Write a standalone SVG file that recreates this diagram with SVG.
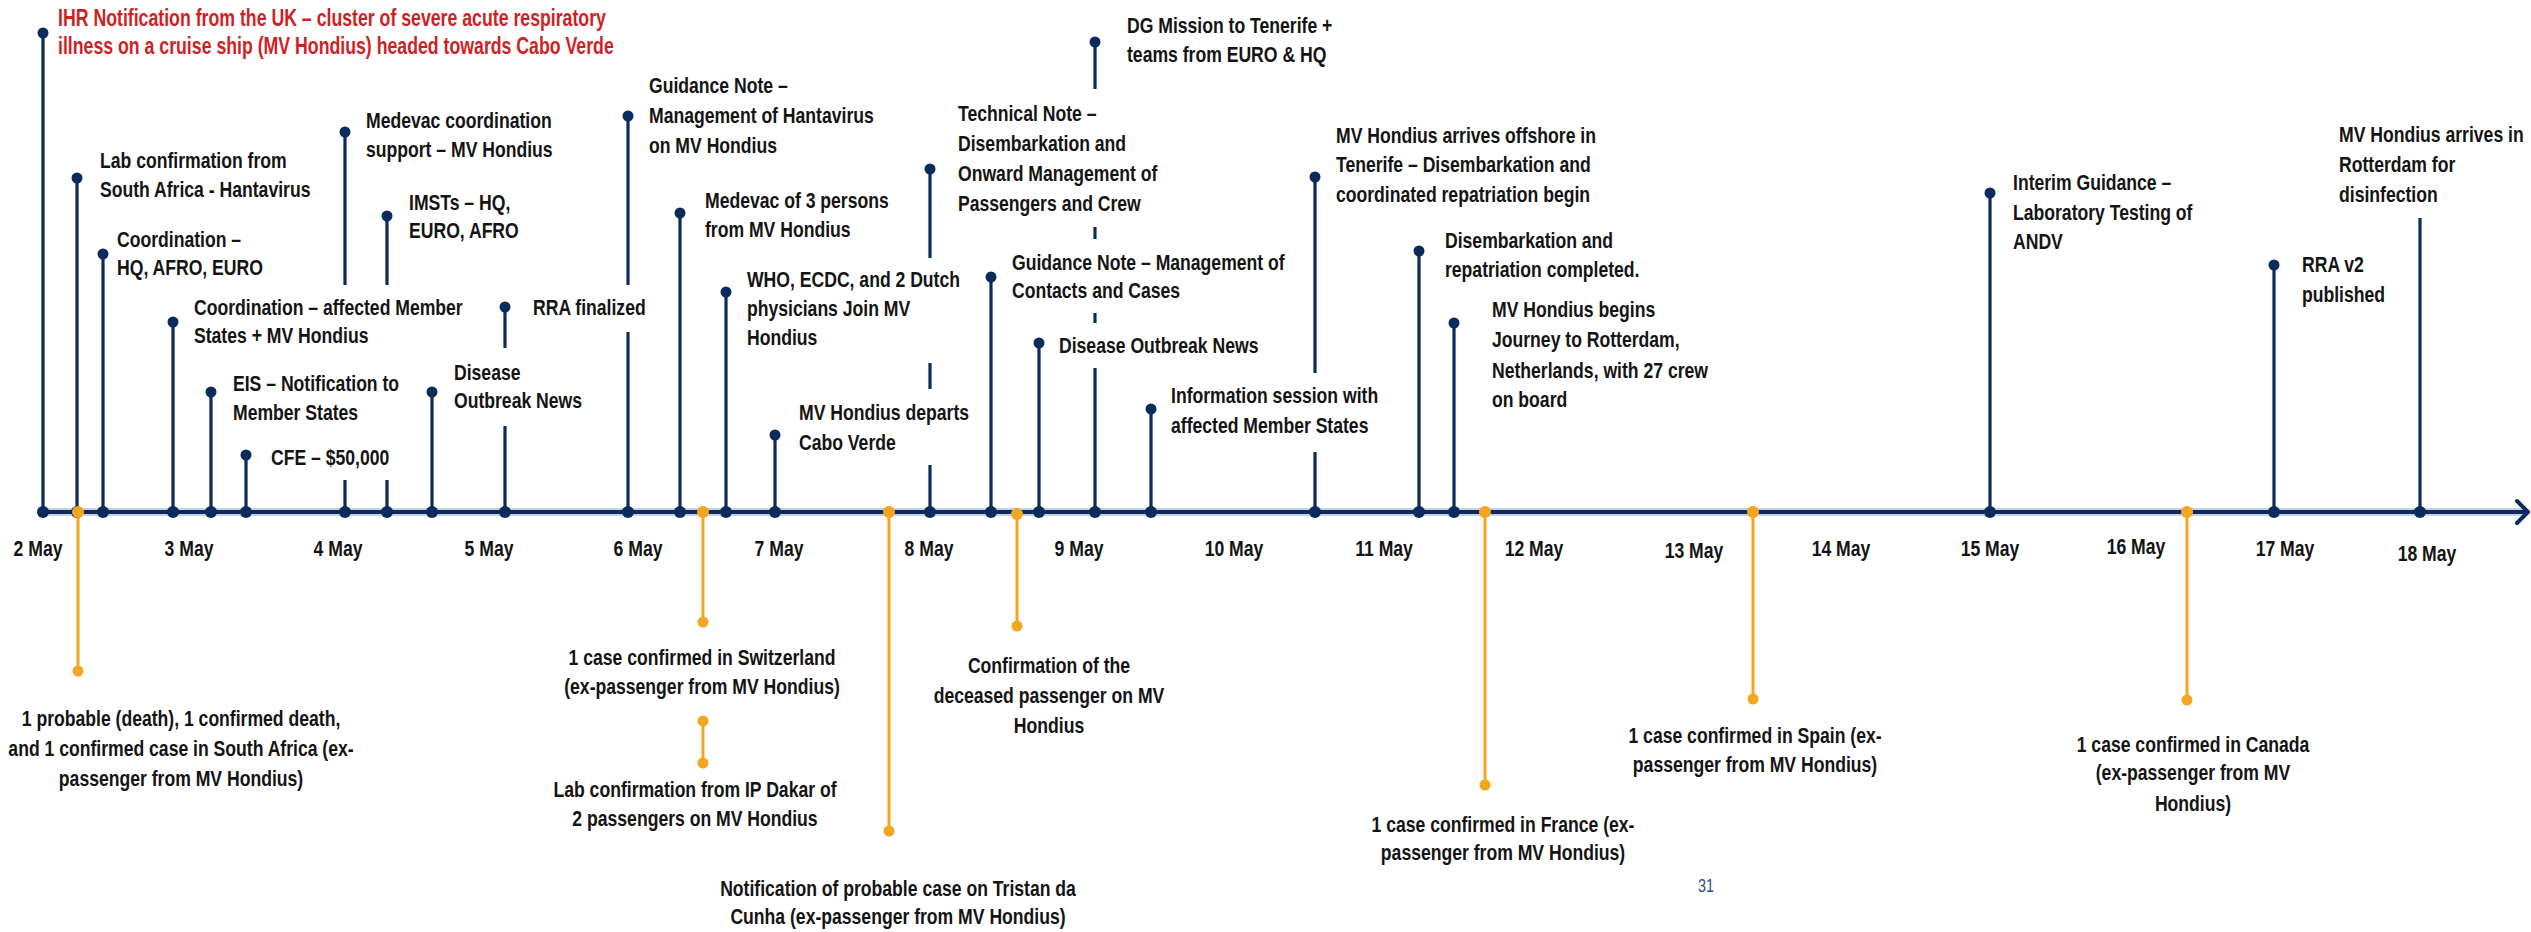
<svg xmlns="http://www.w3.org/2000/svg" width="2531" height="932" viewBox="0 0 2531 932">
<style>
.t{font-family:"Liberation Sans",Arial,sans-serif;font-size:22px;font-weight:bold;fill:#141414}
.red{fill:#d01f25;font-size:23px}
.c{text-anchor:middle}
.pg{font-family:"Liberation Sans",Arial,sans-serif;font-size:18px;fill:#2f4a8a;text-anchor:middle}
.stem{stroke:#0b2b5c;stroke-width:3.2;fill:none}
.ostem{stroke:#f4a620;stroke-width:3;fill:none}
.dot{fill:#0b2b5c}
.odot{fill:#f4a620}
</style>
<rect width="2531" height="932" fill="#ffffff"/>
<g id="axis">
<line x1="42" y1="512" x2="2527" y2="512" stroke="#c7d1de" stroke-width="8"/>
<line x1="42" y1="512" x2="2527" y2="512" stroke="#0b2b5c" stroke-width="4"/>
<polyline points="2517,501 2528,512 2517,523" fill="none" stroke="#0b2b5c" stroke-width="4" stroke-linecap="round" stroke-linejoin="round"/>
</g>
<g id="connectors">
<line class="stem" x1="43" y1="33" x2="43" y2="512"/>
<line class="stem" x1="77" y1="178" x2="77" y2="512"/>
<line class="stem" x1="103" y1="254" x2="103" y2="512"/>
<line class="stem" x1="173" y1="322" x2="173" y2="512"/>
<line class="stem" x1="211" y1="392" x2="211" y2="512"/>
<line class="stem" x1="246" y1="455" x2="246" y2="512"/>
<line class="stem" x1="345" y1="132" x2="345" y2="285"/>
<line class="stem" x1="345" y1="480" x2="345" y2="512"/>
<line class="stem" x1="387" y1="216" x2="387" y2="285"/>
<line class="stem" x1="387" y1="480" x2="387" y2="512"/>
<line class="stem" x1="432" y1="392" x2="432" y2="512"/>
<line class="stem" x1="505" y1="307" x2="505" y2="348"/>
<line class="stem" x1="505" y1="426" x2="505" y2="512"/>
<line class="stem" x1="628" y1="116" x2="628" y2="285"/>
<line class="stem" x1="628" y1="332" x2="628" y2="512"/>
<line class="stem" x1="680" y1="213" x2="680" y2="512"/>
<line class="stem" x1="726" y1="292" x2="726" y2="512"/>
<line class="stem" x1="775" y1="435" x2="775" y2="512"/>
<line class="stem" x1="930" y1="169" x2="930" y2="258"/>
<line class="stem" x1="930" y1="363" x2="930" y2="389"/>
<line class="stem" x1="930" y1="465" x2="930" y2="512"/>
<line class="stem" x1="991" y1="277" x2="991" y2="512"/>
<line class="stem" x1="1039" y1="343" x2="1039" y2="512"/>
<line class="stem" x1="1095" y1="42" x2="1095" y2="89"/>
<line class="stem" x1="1095" y1="227" x2="1095" y2="239"/>
<line class="stem" x1="1095" y1="313" x2="1095" y2="323"/>
<line class="stem" x1="1095" y1="368" x2="1095" y2="512"/>
<line class="stem" x1="1151" y1="409" x2="1151" y2="512"/>
<line class="stem" x1="1315" y1="177" x2="1315" y2="373"/>
<line class="stem" x1="1315" y1="452" x2="1315" y2="512"/>
<line class="stem" x1="1419" y1="251" x2="1419" y2="512"/>
<line class="stem" x1="1454" y1="323" x2="1454" y2="512"/>
<line class="stem" x1="1990" y1="193" x2="1990" y2="512"/>
<line class="stem" x1="2274" y1="265" x2="2274" y2="512"/>
<line class="stem" x1="2420" y1="218" x2="2420" y2="512"/>
<line class="ostem" x1="78" y1="512" x2="78" y2="671"/>
<line class="ostem" x1="703" y1="512" x2="703" y2="622"/>
<line class="ostem" x1="703" y1="721" x2="703" y2="763"/>
<line class="ostem" x1="889" y1="512" x2="889" y2="831"/>
<line class="ostem" x1="1017" y1="514" x2="1017" y2="626"/>
<line class="ostem" x1="1485" y1="512" x2="1485" y2="785"/>
<line class="ostem" x1="1753" y1="512" x2="1753" y2="699"/>
<line class="ostem" x1="2187" y1="512" x2="2187" y2="700"/>
</g>
<g id="dates" class="t c">
<text transform="matrix(0.8 0 0 1 38 556)">2 May</text>
<text transform="matrix(0.8 0 0 1 189 556)">3 May</text>
<text transform="matrix(0.8 0 0 1 338 556)">4 May</text>
<text transform="matrix(0.8 0 0 1 489 556)">5 May</text>
<text transform="matrix(0.8 0 0 1 638 556)">6 May</text>
<text transform="matrix(0.8 0 0 1 779 556)">7 May</text>
<text transform="matrix(0.8 0 0 1 929 556)">8 May</text>
<text transform="matrix(0.8 0 0 1 1079 556)">9 May</text>
<text transform="matrix(0.8 0 0 1 1234 556)">10 May</text>
<text transform="matrix(0.8 0 0 1 1384 556)">11 May</text>
<text transform="matrix(0.8 0 0 1 1534 556)">12 May</text>
<text transform="matrix(0.8 0 0 1 1694 558)">13 May</text>
<text transform="matrix(0.8 0 0 1 1841 556)">14 May</text>
<text transform="matrix(0.8 0 0 1 1990 556)">15 May</text>
<text transform="matrix(0.8 0 0 1 2136 554)">16 May</text>
<text transform="matrix(0.8 0 0 1 2285 556)">17 May</text>
<text transform="matrix(0.8 0 0 1 2427 561)">18 May</text>
</g>
<g id="e01"><circle class="dot" cx="43" cy="33" r="5.5"/><circle class="dot" cx="43" cy="512" r="6"/>
<text class="t red" transform="matrix(0.77 0 0 1 58 26)">IHR Notification from the UK – cluster of severe acute respiratory</text>
<text class="t red" transform="matrix(0.77 0 0 1 58 54)">illness on a cruise ship (MV Hondius) headed towards Cabo Verde</text></g>
<g id="e02"><circle class="dot" cx="77" cy="178" r="5.5"/><circle class="dot" cx="77" cy="512" r="6"/>
<text class="t" transform="matrix(0.8 0 0 1 100 168)">Lab confirmation from</text><text class="t" transform="matrix(0.8 0 0 1 100 197)">South Africa - Hantavirus</text></g>
<g id="e03"><circle class="dot" cx="103" cy="254" r="5.5"/><circle class="dot" cx="103" cy="512" r="6"/>
<text class="t" transform="matrix(0.8 0 0 1 117 247)">Coordination –</text><text class="t" transform="matrix(0.8 0 0 1 117 275)">HQ, AFRO, EURO</text></g>
<g id="e04"><circle class="dot" cx="173" cy="322" r="5.5"/><circle class="dot" cx="173" cy="512" r="6"/>
<text class="t" transform="matrix(0.8 0 0 1 194 315)">Coordination – affected Member</text><text class="t" transform="matrix(0.8 0 0 1 194 343)">States + MV Hondius</text></g>
<g id="e05"><circle class="dot" cx="211" cy="392" r="5.5"/><circle class="dot" cx="211" cy="512" r="6"/>
<text class="t" transform="matrix(0.8 0 0 1 233 391)">EIS – Notification to</text><text class="t" transform="matrix(0.8 0 0 1 233 420)">Member States</text></g>
<g id="e06"><circle class="dot" cx="246" cy="455" r="5.5"/><circle class="dot" cx="246" cy="512" r="6"/>
<text class="t" transform="matrix(0.8 0 0 1 271 465)">CFE – $50,000</text></g>
<g id="e07"><circle class="dot" cx="345" cy="132" r="5.5"/><circle class="dot" cx="345" cy="512" r="6"/>
<text class="t" transform="matrix(0.8 0 0 1 366 128)">Medevac coordination</text><text class="t" transform="matrix(0.8 0 0 1 366 157)">support – MV Hondius</text></g>
<g id="e08"><circle class="dot" cx="387" cy="216" r="5.5"/><circle class="dot" cx="387" cy="512" r="6"/>
<text class="t" transform="matrix(0.8 0 0 1 409 210)">IMSTs – HQ,</text><text class="t" transform="matrix(0.8 0 0 1 409 238)">EURO, AFRO</text></g>
<g id="e09"><circle class="dot" cx="432" cy="392" r="5.5"/><circle class="dot" cx="432" cy="512" r="6"/>
<text class="t" transform="matrix(0.8 0 0 1 454 380)">Disease</text><text class="t" transform="matrix(0.8 0 0 1 454 408)">Outbreak News</text></g>
<g id="e10"><circle class="dot" cx="505" cy="307" r="5.5"/><circle class="dot" cx="505" cy="512" r="6"/>
<text class="t" transform="matrix(0.8 0 0 1 533 315)">RRA finalized</text></g>
<g id="e11"><circle class="dot" cx="628" cy="116" r="5.5"/><circle class="dot" cx="628" cy="512" r="6"/>
<text class="t" transform="matrix(0.8 0 0 1 649 93)">Guidance Note –</text><text class="t" transform="matrix(0.8 0 0 1 649 123)">Management of Hantavirus</text><text class="t" transform="matrix(0.8 0 0 1 649 153)">on MV Hondius</text></g>
<g id="e12"><circle class="dot" cx="680" cy="213" r="5.5"/><circle class="dot" cx="680" cy="512" r="6"/>
<text class="t" transform="matrix(0.8 0 0 1 705 208)">Medevac of 3 persons</text><text class="t" transform="matrix(0.8 0 0 1 705 237)">from MV Hondius</text></g>
<g id="e13"><circle class="dot" cx="726" cy="292" r="5.5"/><circle class="dot" cx="726" cy="512" r="6"/>
<text class="t" transform="matrix(0.8 0 0 1 747 287)">WHO, ECDC, and 2 Dutch</text><text class="t" transform="matrix(0.8 0 0 1 747 316)">physicians Join MV</text><text class="t" transform="matrix(0.8 0 0 1 747 345)">Hondius</text></g>
<g id="e14"><circle class="dot" cx="775" cy="435" r="5.5"/><circle class="dot" cx="775" cy="512" r="6"/>
<text class="t" transform="matrix(0.8 0 0 1 799 420)">MV Hondius departs</text><text class="t" transform="matrix(0.8 0 0 1 799 450)">Cabo Verde</text></g>
<g id="e15"><circle class="dot" cx="930" cy="169" r="5.5"/><circle class="dot" cx="930" cy="512" r="6"/>
<text class="t" transform="matrix(0.8 0 0 1 958 121)">Technical Note –</text><text class="t" transform="matrix(0.8 0 0 1 958 151)">Disembarkation and</text><text class="t" transform="matrix(0.8 0 0 1 958 181)">Onward Management of</text><text class="t" transform="matrix(0.8 0 0 1 958 211)">Passengers and Crew</text></g>
<g id="e16"><circle class="dot" cx="1095" cy="42" r="5.5"/><circle class="dot" cx="1095" cy="512" r="6"/>
<text class="t" transform="matrix(0.8 0 0 1 1127 33)">DG Mission to Tenerife +</text><text class="t" transform="matrix(0.8 0 0 1 1127 62)">teams from EURO &amp; HQ</text></g>
<g id="e17"><circle class="dot" cx="991" cy="277" r="5.5"/><circle class="dot" cx="991" cy="512" r="6"/>
<text class="t" transform="matrix(0.8 0 0 1 1012 270)">Guidance Note – Management of</text><text class="t" transform="matrix(0.8 0 0 1 1012 298)">Contacts and Cases</text></g>
<g id="e18"><circle class="dot" cx="1039" cy="343" r="5.5"/><circle class="dot" cx="1039" cy="512" r="6"/>
<text class="t" transform="matrix(0.8 0 0 1 1059 353)">Disease Outbreak News</text></g>
<g id="e19"><circle class="dot" cx="1151" cy="409" r="5.5"/><circle class="dot" cx="1151" cy="512" r="6"/>
<text class="t" transform="matrix(0.8 0 0 1 1171 403)">Information session with</text><text class="t" transform="matrix(0.8 0 0 1 1171 433)">affected Member States</text></g>
<g id="e20"><circle class="dot" cx="1315" cy="177" r="5.5"/><circle class="dot" cx="1315" cy="512" r="6"/>
<text class="t" transform="matrix(0.8 0 0 1 1336 143)">MV Hondius arrives offshore in</text><text class="t" transform="matrix(0.8 0 0 1 1336 172)">Tenerife – Disembarkation and</text><text class="t" transform="matrix(0.8 0 0 1 1336 202)">coordinated repatriation begin</text></g>
<g id="e21"><circle class="dot" cx="1419" cy="251" r="5.5"/><circle class="dot" cx="1419" cy="512" r="6"/>
<text class="t" transform="matrix(0.8 0 0 1 1445 248)">Disembarkation and</text><text class="t" transform="matrix(0.8 0 0 1 1445 277)">repatriation completed.</text></g>
<g id="e22"><circle class="dot" cx="1454" cy="323" r="5.5"/><circle class="dot" cx="1454" cy="512" r="6"/>
<text class="t" transform="matrix(0.8 0 0 1 1492 317)">MV Hondius begins</text><text class="t" transform="matrix(0.8 0 0 1 1492 347)">Journey to Rotterdam,</text><text class="t" transform="matrix(0.8 0 0 1 1492 378)">Netherlands, with 27 crew</text><text class="t" transform="matrix(0.8 0 0 1 1492 407)">on board</text></g>
<g id="e23"><circle class="dot" cx="1990" cy="193" r="5.5"/><circle class="dot" cx="1990" cy="512" r="6"/>
<text class="t" transform="matrix(0.8 0 0 1 2013 190)">Interim Guidance –</text><text class="t" transform="matrix(0.8 0 0 1 2013 220)">Laboratory Testing of</text><text class="t" transform="matrix(0.8 0 0 1 2013 249)">ANDV</text></g>
<g id="e24"><circle class="dot" cx="2274" cy="265" r="5.5"/><circle class="dot" cx="2274" cy="512" r="6"/>
<text class="t" transform="matrix(0.8 0 0 1 2302 272)">RRA v2</text><text class="t" transform="matrix(0.8 0 0 1 2302 302)">published</text></g>
<g id="e25"><circle class="dot" cx="2420" cy="512" r="6"/>
<text class="t" transform="matrix(0.8 0 0 1 2339 142)">MV Hondius arrives in</text><text class="t" transform="matrix(0.8 0 0 1 2339 172)">Rotterdam for</text><text class="t" transform="matrix(0.8 0 0 1 2339 202)">disinfection</text></g>
<g id="o1"><circle class="odot" cx="78" cy="512" r="6"/><circle class="odot" cx="78" cy="671" r="5.5"/>
<text class="t c" transform="matrix(0.8 0 0 1 181 726)">1 probable (death), 1 confirmed death,</text><text class="t c" transform="matrix(0.8 0 0 1 181 756)">and 1 confirmed case in South Africa (ex-</text><text class="t c" transform="matrix(0.8 0 0 1 181 786)">passenger from MV Hondius)</text></g>
<g id="o2"><circle class="odot" cx="703" cy="512" r="6"/><circle class="odot" cx="703" cy="622" r="5.5"/>
<text class="t c" transform="matrix(0.8 0 0 1 702 665)">1 case confirmed in Switzerland</text><text class="t c" transform="matrix(0.8 0 0 1 702 694)">(ex-passenger from MV Hondius)</text></g>
<g id="o3"><circle class="odot" cx="703" cy="721" r="5.5"/><circle class="odot" cx="703" cy="763" r="5.5"/>
<text class="t c" transform="matrix(0.8 0 0 1 695 797)">Lab confirmation from IP Dakar of</text><text class="t c" transform="matrix(0.8 0 0 1 695 826)">2 passengers on MV Hondius</text></g>
<g id="o4"><circle class="odot" cx="889" cy="512" r="6"/><circle class="odot" cx="889" cy="831" r="5.5"/>
<text class="t c" transform="matrix(0.8 0 0 1 898 896)">Notification of probable case on Tristan da</text><text class="t c" transform="matrix(0.8 0 0 1 898 924)">Cunha (ex-passenger from MV Hondius)</text></g>
<g id="o5"><circle class="odot" cx="1017" cy="514" r="6"/><circle class="odot" cx="1017" cy="626" r="5.5"/>
<text class="t c" transform="matrix(0.8 0 0 1 1049 673)">Confirmation of the</text><text class="t c" transform="matrix(0.8 0 0 1 1049 703)">deceased passenger on MV</text><text class="t c" transform="matrix(0.8 0 0 1 1049 733)">Hondius</text></g>
<g id="o6"><circle class="odot" cx="1485" cy="512" r="6"/><circle class="odot" cx="1485" cy="785" r="5.5"/>
<text class="t c" transform="matrix(0.8 0 0 1 1503 832)">1 case confirmed in France (ex-</text><text class="t c" transform="matrix(0.8 0 0 1 1503 860)">passenger from MV Hondius)</text></g>
<g id="o7"><circle class="odot" cx="1753" cy="512" r="6"/><circle class="odot" cx="1753" cy="699" r="5.5"/>
<text class="t c" transform="matrix(0.8 0 0 1 1755 743)">1 case confirmed in Spain (ex-</text><text class="t c" transform="matrix(0.8 0 0 1 1755 772)">passenger from MV Hondius)</text></g>
<g id="o8"><circle class="odot" cx="2187" cy="512" r="6"/><circle class="odot" cx="2187" cy="700" r="5.5"/>
<text class="t c" transform="matrix(0.8 0 0 1 2193 752)">1 case confirmed in Canada</text><text class="t c" transform="matrix(0.8 0 0 1 2193 780)">(ex-passenger from MV</text><text class="t c" transform="matrix(0.8 0 0 1 2193 811)">Hondius)</text></g>
<g id="page"><text class="pg" transform="matrix(0.8 0 0 1 1706 892)">31</text></g>
</svg>
